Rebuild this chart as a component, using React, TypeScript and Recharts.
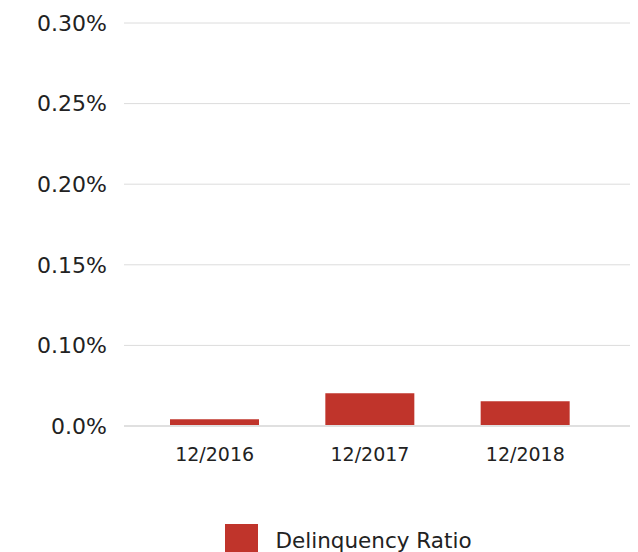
import { Bar, BarChart, CartesianGrid, Legend, XAxis, YAxis } from 'recharts';

const periods = ['12/2016', '12/2017', '12/2018'];
const delinquencyRatio = [0.0042, 0.0203, 0.0153];
const yTicks = [0, 0.05, 0.1, 0.15, 0.2, 0.25];
// tick labels as printed on the source chart (bottom one reads 0.0%)
const yTickLabels = ['0.0%', '0.10%', '0.15%', '0.20%', '0.25%', '0.30%'];

const data = periods.map((period, i) => ({ period, ratio: delinquencyRatio[i] }));

const FONT = '"DejaVu Sans", sans-serif';
const RED = '#c0342b';

function LegendContent() {
  return (
    <div style={{ display: 'flex', justifyContent: 'center', alignItems: 'center', height: 40, paddingTop: 8, paddingLeft: 67 }}>
      <span style={{ display: 'inline-block', width: 33, height: 32, background: RED, marginRight: 17 }} />
      <span style={{ fontFamily: FONT, fontSize: 21.5, color: '#222' }}>Delinquency Ratio</span>
    </div>
  );
}

export default function App() {
  return (
    <div style={{ position: 'absolute', left: 0, top: 0, background: '#fff' }}>
      <BarChart width={638} height={552} data={data} margin={{ top: 23, right: 8, left: 0, bottom: 0 }}>
        <CartesianGrid vertical={false} stroke="#dcdcdc" />
        <XAxis
          dataKey="period"
          height={86}
          padding={{ left: 13, right: 27 }}
          tickLine={false}
          tickSize={0}
          tickMargin={22}
          axisLine={{ stroke: '#e0e0e0', strokeWidth: 2 }}
          tick={{ fontFamily: FONT, fontSize: 19, fill: '#222' }}
        />
        <YAxis
          width={124}
          domain={[0, 0.25]}
          ticks={yTicks}
          tickFormatter={(_v: number, i: number) => yTickLabels[i]}
          axisLine={false}
          tickLine={false}
          tickSize={0}
          tickMargin={17}
          tick={{ fontFamily: FONT, fontSize: 22, fill: '#222' }}
        />
        <Legend verticalAlign="bottom" height={40} content={<LegendContent />} />
        <Bar dataKey="ratio" name="Delinquency Ratio" fill={RED} barSize={89} isAnimationActive={false} />
      </BarChart>
    </div>
  );
}
